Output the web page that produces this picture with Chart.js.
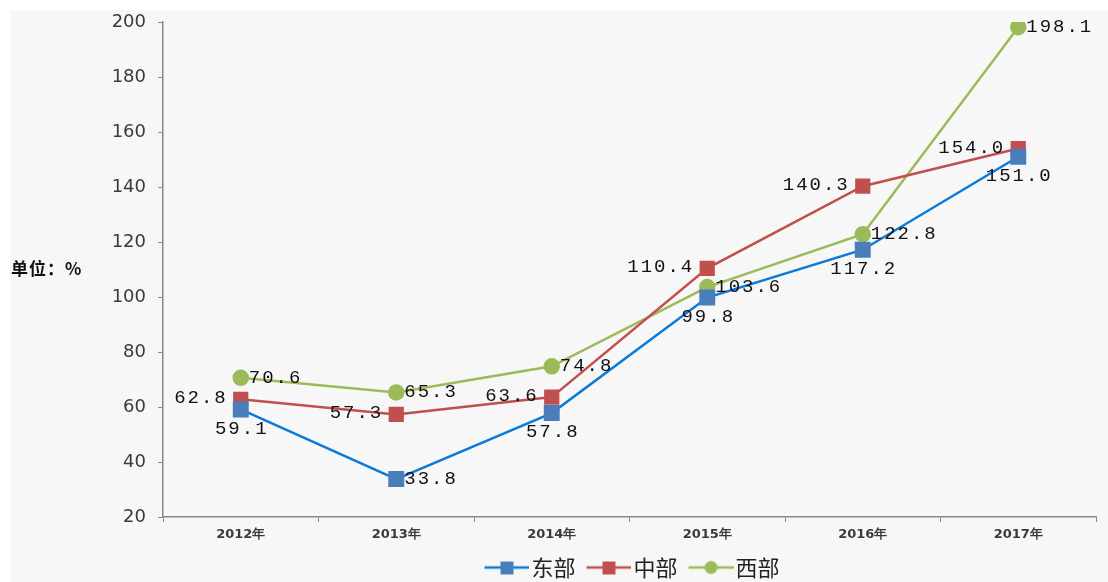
<!DOCTYPE html>
<html>
<head>
<meta charset="utf-8">
<script src="https://cdn.jsdelivr.net/npm/chart.js@4/dist/chart.umd.min.js"></script>
<style>
    body { margin: 0; background: #ffffff; width: 1108px; height: 582px; overflow: hidden; position: relative; }
    #wrap { position: absolute; left: 10px; top: 10px; width: 1098px; height: 572px; background: #f7f7f7; }
    #unit { position: absolute; left: 11px; top: 255px; font: bold 17px "Noto Sans CJK SC", sans-serif; letter-spacing: 1px; color: #111; }
</style>
</head>
<body>
<div id="wrap"><canvas id="lineChart"></canvas></div>
<div id="unit">单位：%</div>
<script>
const years = ['2012年', '2013年', '2014年', '2015年', '2016年', '2017年'];
const eastValues = [59.1, 33.8, 57.8, 99.8, 117.2, 151.0];
const centralValues = [62.8, 57.3, 63.6, 110.4, 140.3, 154.0];
const westValues = [70.6, 65.3, 74.8, 103.6, 122.8, 198.1];

// where each value label sits next to its point
const eastLabelPos = ['below', 'right', 'below', 'below', 'below', 'below'];
const centralLabelPos = ['left', 'left', 'left', 'left', 'left', 'left'];
const westLabelPos = ['right', 'right', 'right', 'right', 'right', 'right'];

// small line + marker picture for the legend (transparent margin on the left)
function legendIcon(lineColor, markColor, shape) {
    const c = document.createElement('canvas');
    c.width = 59;
    c.height = 16;
    const g = c.getContext('2d');
    g.strokeStyle = lineColor;
    g.lineWidth = 2.5;
    g.beginPath();
    g.moveTo(14, 8);
    g.lineTo(59, 8);
    g.stroke();
    g.fillStyle = markColor;
    if (shape === 'rect') {
        g.fillRect(30, 2, 13, 13);
    } else {
        g.beginPath();
        g.arc(36.5, 8, 6.5, 0, Math.PI * 2);
        g.fill();
    }
    return c;
}

const icons = [
    legendIcon('#0a7ad8', '#4a7ebb', 'rect'),
    legendIcon('#c0504d', '#c0504d', 'rect'),
    legendIcon('#9bbb59', '#9bbb59', 'circle')
];

// draws the numbers beside the points
const valueLabels = {
    id: 'valueLabels',
    afterDatasetsDraw(chart) {
        const ctx = chart.ctx;
        ctx.save();
        ctx.font = '19px "Liberation Mono", monospace';
        ctx.letterSpacing = '2px';
        ctx.fillStyle = '#111';
        chart.data.datasets.forEach((ds, i) => {
            const meta = chart.getDatasetMeta(i);
            meta.data.forEach((pt, j) => {
                const text = ds.data[j].toFixed(1);
                const pos = ds.labelPos[j];
                ctx.textBaseline = 'middle';
                if (pos === 'below') {
                    ctx.textAlign = 'center';
                    ctx.fillText(text, pt.x + 1, pt.y + 19);
                } else if (pos === 'left') {
                    ctx.textAlign = 'right';
                    ctx.fillText(text, pt.x - 13, pt.y - 1);
                } else {
                    ctx.textAlign = 'left';
                    ctx.fillText(text, pt.x + 8, pt.y);
                }
            });
        });
        ctx.restore();
    }
};

const ctx = document.getElementById('lineChart').getContext('2d');
const lineChart = new Chart(ctx, {
    type: 'line',
    data: {
        labels: years,
        datasets: [{
            label: '东部',
            data: eastValues,
            labelPos: eastLabelPos,
            borderColor: '#0a7ad8',
            backgroundColor: '#4a7ebb',
            pointBackgroundColor: '#4a7ebb',
            pointBorderColor: '#4a7ebb',
            pointStyle: 'rect',
            pointRadius: 9.5,
            borderWidth: 2.5
        },
        {
            label: '中部',
            data: centralValues,
            labelPos: centralLabelPos,
            borderColor: '#c0504d',
            backgroundColor: '#c0504d',
            pointBackgroundColor: '#c0504d',
            pointBorderColor: '#c0504d',
            pointStyle: 'rect',
            pointRadius: 9,
            borderWidth: 2.5
        },
        {
            label: '西部',
            data: westValues,
            labelPos: westLabelPos,
            borderColor: '#9bbb59',
            backgroundColor: '#9bbb59',
            pointBackgroundColor: '#9bbb59',
            pointBorderColor: '#9bbb59',
            pointStyle: 'circle',
            pointRadius: 7,
            borderWidth: 2.5
        }]
    },
    options: {
        responsive: true,
        maintainAspectRatio: false,
        animation: false,
        layout: {
            padding: { top: 12, right: 10, bottom: -6.5, left: 0 }
        },
        plugins: {
            tooltip: { enabled: false },
            legend: {
                position: 'bottom',
                fullSize: false,
                labels: {
                    usePointStyle: true,
                    pointStyleWidth: 41,
                    padding: 6,
                    color: '#222',
                    font: { family: '"Noto Sans CJK SC", sans-serif', size: 22 },
                    generateLabels(chart) {
                        const items = Chart.defaults.plugins.legend.labels.generateLabels(chart);
                        items.forEach((it, i) => { it.pointStyle = icons[i]; });
                        return items;
                    }
                }
            }
        },
        scales: {
            x: {
                offset: true,
                grid: {
                    offset: true,
                    drawOnChartArea: false,
                    tickLength: 5,
                    color: '#888'
                },
                border: { color: '#888', width: 1.5 },
                ticks: {
                    padding: 5,
                    color: '#3a3a3a',
                    font: { family: '"DejaVu Sans", sans-serif', size: 13, weight: 'bold' }
                },
                afterFit(scale) {
                    scale.height = 33.5;
                    scale.paddingLeft = 0;
                    scale.paddingRight = 0;
                }
            },
            y: {
                min: 20,
                max: 200,
                ticks: {
                    stepSize: 20,
                    padding: 12,
                    color: '#3a3a3a',
                    font: { family: '"DejaVu Sans", sans-serif', size: 18 }
                },
                grid: {
                    drawOnChartArea: false,
                    tickLength: 5,
                    color: '#888'
                },
                border: { color: '#888', width: 1.5 },
                afterFit(scale) {
                    scale.width = 153;
                    scale.paddingTop = 0;
                    scale.paddingBottom = 0;
                }
            }
        }
    },
    plugins: [valueLabels]
});
</script>
</body>
</html>
